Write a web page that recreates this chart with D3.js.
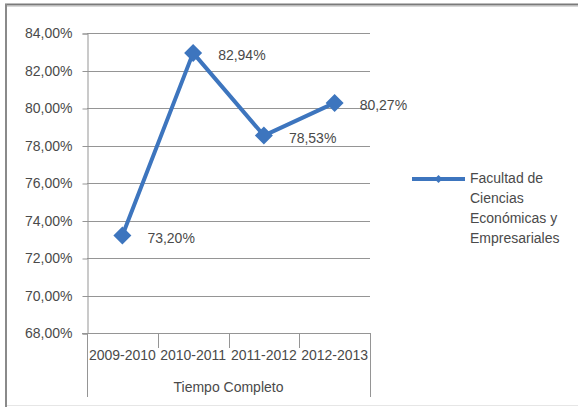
<!DOCTYPE html>
<html>
<head>
<meta charset="utf-8">
<script src="https://cdn.jsdelivr.net/npm/d3@7"></script>
<style>
  html, body { margin: 0; padding: 0; background: #fff; }
  svg { display: block; }
  text { font-family: "Liberation Sans", Arial, sans-serif; font-size: 14px; fill: #4a4a4a; }
</style>
</head>
<body>
<svg id="chart" width="578" height="407"></svg>
<script>
const categories = ["2009-2010", "2010-2011", "2011-2012", "2012-2013"];
const values = [73.20, 82.94, 78.53, 80.27];
const yTicks = [68, 70, 72, 74, 76, 78, 80, 82, 84];
const groupLabel = "Tiempo Completo";
const legendLines = ["Facultad de", "Ciencias", "Económicas y", "Empresariales"];

(function () {
const svg = d3.select("#chart");
const blue = "#3d75be";
const grid = "#959595";
const fmt = v => d3.format(".2f")(v).replace(".", ",") + "%";

// Outer frame (screenshot border)
svg.append("line").attr("x1", 5).attr("x2", 578).attr("y1", 4.5).attr("y2", 4.5)
  .attr("stroke", "#7a7a7a").attr("stroke-width", 2);
svg.append("line").attr("x1", 5).attr("x2", 578).attr("y1", 6.5).attr("y2", 6.5)
  .attr("stroke", "#d8d8d8").attr("stroke-width", 1);
svg.append("line").attr("x1", 6).attr("x2", 6).attr("y1", 4).attr("y2", 407)
  .attr("stroke", "#8a8a8a").attr("stroke-width", 2);
svg.append("line").attr("x1", 7).attr("x2", 578).attr("y1", 405.5).attr("y2", 405.5)
  .attr("stroke", "#e6e6e6").attr("stroke-width", 1);

const pLeft = 87, pRight = 370, pTop = 33, pBottom = 333;
const y = d3.scaleLinear().domain([68, 84]).range([pBottom, pTop]);
const x = d3.scaleBand().domain(categories).range([pLeft, pRight]).padding(0);
const cx = d => x(d) + x.bandwidth() / 2;

// Gridlines
svg.append("g").selectAll("line").data(yTicks.filter(t => t !== 68)).join("line")
  .attr("x1", pLeft).attr("x2", pRight)
  .attr("y1", d => Math.round(y(d)) + 0.5).attr("y2", d => Math.round(y(d)) + 0.5)
  .attr("stroke", grid).attr("stroke-width", 1);

// Y axis
const yAxis = d3.axisLeft(y).tickValues(yTicks).tickFormat(fmt).tickSize(5).tickPadding(10);
const gy = svg.append("g").attr("transform", `translate(${pLeft + 0.5},0.5)`).call(yAxis);
gy.attr("font-family", null).attr("font-size", null);
gy.select(".domain").attr("stroke", grid);
gy.selectAll(".tick line").attr("stroke", grid);
gy.selectAll(".tick text").style("fill", "#4a4a4a");

// X axis line
svg.append("line").attr("x1", pLeft - 5).attr("x2", pRight).attr("y1", pBottom + 0.5).attr("y2", pBottom + 0.5)
  .attr("stroke", grid);
// Category boundary ticks
const bounds = categories.map(c => x(c)).concat([pRight]);
svg.append("g").selectAll("line").data(bounds).join("line")
  .attr("x1", d => Math.round(d) + 0.5).attr("x2", d => Math.round(d) + 0.5)
  .attr("y1", pBottom)
  .attr("y2", (d, i) => (i === 0 || i === bounds.length - 1) ? 397 : 348)
  .attr("stroke", grid);

// Category labels
svg.append("g").selectAll("text").data(categories).join("text")
  .attr("x", d => cx(d)).attr("y", 355)
  .attr("text-anchor", "middle").attr("dominant-baseline", "central")
  .text(d => d);
svg.append("text").attr("x", (pLeft + pRight) / 2).attr("y", 387)
  .attr("text-anchor", "middle").attr("dominant-baseline", "central")
  .text(groupLabel);

// Line
const line = d3.line().x((d, i) => cx(categories[i])).y(d => y(d));
svg.append("path").datum(values).attr("d", line)
  .attr("fill", "none").attr("stroke", blue).attr("stroke-width", 4)
  .attr("stroke-linejoin", "round");

// Markers
const diamond = (s) => `M0,${-s}L${s},0L0,${s}L${-s},0Z`;
svg.append("g").selectAll("path").data(values).join("path")
  .attr("transform", (d, i) => `translate(${cx(categories[i])},${y(d)})`)
  .attr("d", diamond(9)).attr("fill", blue);

// Data labels
svg.append("g").selectAll("text").data(values).join("text")
  .attr("x", (d, i) => cx(categories[i]) + 25).attr("y", d => y(d) + 2)
  .attr("dominant-baseline", "central")
  .text(d => fmt(d));

// Legend
svg.append("line").attr("x1", 412).attr("x2", 465).attr("y1", 179).attr("y2", 179)
  .attr("stroke", blue).attr("stroke-width", 4);
svg.append("path").attr("transform", "translate(438.5,179)").attr("d", diamond(4)).attr("fill", blue);
svg.append("g").selectAll("text").data(legendLines).join("text")
  .attr("x", 470).attr("y", (d, i) => 178 + i * 20)
  .attr("dominant-baseline", "central")
  .text(d => d);
})();
</script>
</body>
</html>
